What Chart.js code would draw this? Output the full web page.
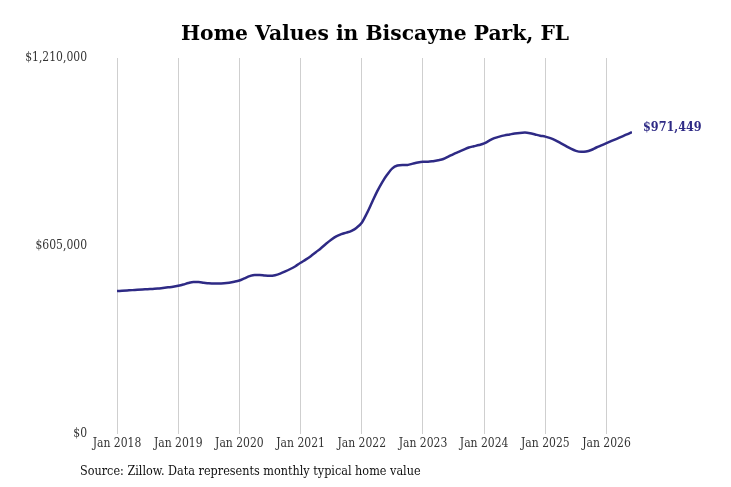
<!DOCTYPE html>
<html>
<head>
<meta charset="utf-8">
<script src="https://cdn.jsdelivr.net/npm/chart.js@4.4.1/dist/chart.umd.min.js"></script>
<style>
body{margin:0;background:#fff}
#wrap{width:731px;height:487px;position:relative}
</style>
</head>
<body>
<div id="wrap"><canvas id="homeChart" width="731" height="487"></canvas></div>
<script>

// monthly typical home value, Jan 2018 .. Jun 2026
let values2018=[460000,461000,462000,463000,464000,465000,466000,467000,468000,470000,472000,474000]
let values2019=[477000,481000,486000,489000,489000,487000,485000,484000,484000,485000,487000,490000]
let values2020=[494000,501000,508000,512000,512000,510000,509000,511000,516000,523000,531000,540000]
let values2021=[551000,561000,572000,585000,598000,612000,625000,636000,643000,648000,654000,664000]
let values2022=[680000,710000,745000,780000,810000,835000,855000,864000,866000,866000,870000,874000]
let values2023=[876000,876000,878000,881000,885000,893000,901000,908000,915000,922000,926000,930000]
let values2024=[935000,944000,952000,957000,961000,964000,967000,969000,970000,968000,964000,960000]
let values2025=[957000,952000,945000,936000,927000,918000,911000,908000,909000,914000,922000,929000]
let values2026=[936000,943000,950000,957000,964000,971449]

let yearLabels=["Jan 2018","Jan 2019","Jan 2020","Jan 2021","Jan 2022","Jan 2023","Jan 2024","Jan 2025","Jan 2026"]
let yTicks=[0,605000,1210000]
let yTickLabels=["$0","$605,000","$1,210,000"]

let titleText="Home Values in Biscayne Park, FL"
let sourceText="Source: Zillow. Data represents monthly typical home value"
let lastLabel="$971,449"

let allValues=[].concat(values2018,values2019,values2020,values2021,values2022,values2023,values2024,values2025,values2026)
let points=allValues.map((v,i)=>({x:i,y:v}))

let serif="'DejaVu Serif Condensed','DejaVu Serif',serif"
let lineColor="#2e2a85"


/* title, source line and end label */

let extras={
id:"extras",
afterDraw(chart){
let ctx=chart.ctx
ctx.save()
ctx.fillStyle="#000"
ctx.textAlign="center"
ctx.textBaseline="middle"
ctx.font="bold 20.3px 'DejaVu Serif',serif"
ctx.fillText(titleText,375,35)

ctx.textAlign="left"
ctx.font="12.5px "+serif
ctx.fillStyle="#111"
ctx.fillText(sourceText,80,472)

let meta=chart.getDatasetMeta(0)
let last=meta.data[meta.data.length-1]
ctx.font="bold 12.5px "+serif
ctx.fillStyle=lineColor
ctx.fillText(lastLabel,last.x+11,last.y-4)
ctx.restore()
}
}


let homeChart=new Chart(document.getElementById("homeChart"),{

type:"line",

data:{
datasets:[{
label:"Home value",
data:points,
borderColor:lineColor,
borderWidth:2.5,
pointRadius:0,
fill:false,
cubicInterpolationMode:"monotone"
}]
},

options:{
responsive:false,
animation:false,
devicePixelRatio:1,
layout:{padding:{top:58,right:99,left:0,bottom:0}},
plugins:{
legend:{display:false},
tooltip:{enabled:false}
},
scales:{
x:{
type:"linear",
min:0,
max:allValues.length-1,
afterFit(scale){scale.height=53},
afterBuildTicks(scale){scale.ticks=yearLabels.map((l,i)=>({value:i*12}))},
border:{display:false},
grid:{color:"#cfcfcf",lineWidth:1,drawTicks:false},
ticks:{
padding:3,
color:"#333",
font:{family:serif,size:12},
maxRotation:0,
autoSkip:false,
callback:(v)=>yearLabels[v/12]
}
},
y:{
min:0,
max:1210000,
afterFit(scale){scale.width=117},
afterBuildTicks(scale){scale.ticks=yTicks.map(v=>({value:v}))},
border:{display:false},
grid:{display:false,drawTicks:false},
ticks:{
padding:30,
color:"#333",
font:{family:serif,size:12},
callback:(v)=>yTickLabels[yTicks.indexOf(v)]
}
}
}
},

plugins:[extras]

})

</script>
</body>
</html>
